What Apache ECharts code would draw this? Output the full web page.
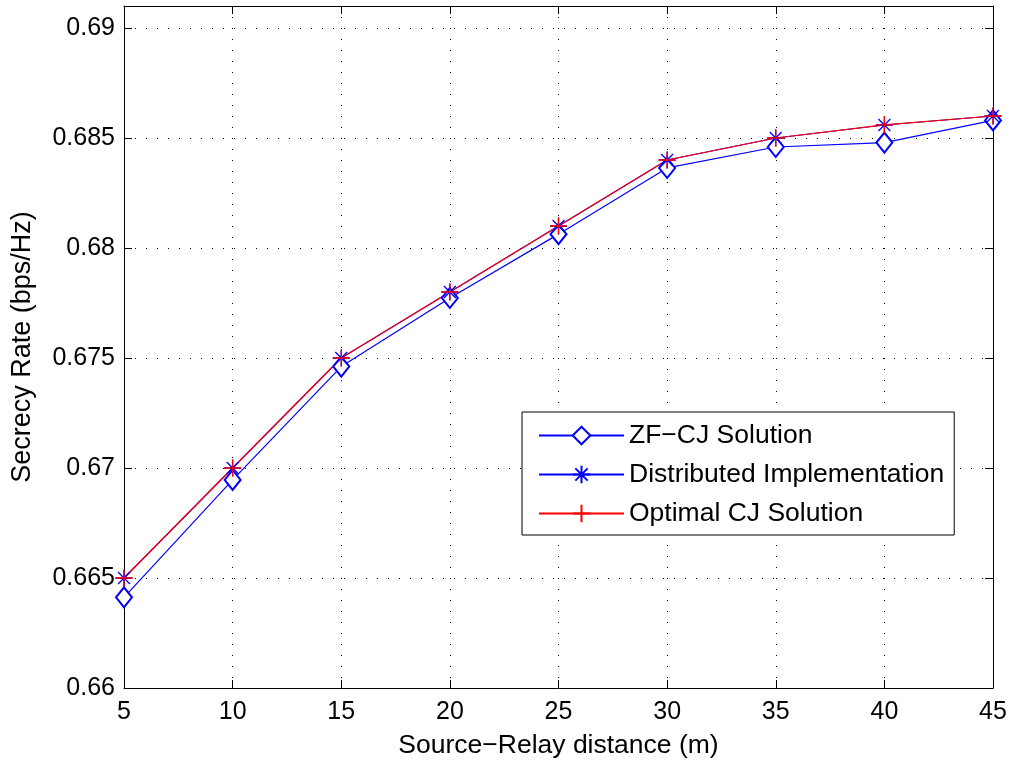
<!DOCTYPE html>
<html>
<head>
<meta charset="utf-8">
<script src="https://cdn.jsdelivr.net/npm/echarts@6/dist/echarts.min.js"></script>
<style>
  html, body { margin: 0; padding: 0; background: #fff; }
  #chart { width: 1013px; height: 764px; }
</style>
</head>
<body>
<div id="chart"></div>
<script>
  // source-relay distance (m)
  const distance = [5, 10, 15, 20, 25, 30, 35, 40, 45]
  const zfcj = [0.66412, 0.66946, 0.67461, 0.67773, 0.68063, 0.68364, 0.68459, 0.68479, 0.68580]
  const distributed = [0.66500, 0.67000, 0.67500, 0.67800, 0.68100, 0.68400, 0.68500, 0.68559, 0.68600]
  const optimal = [0.66500, 0.67000, 0.67500, 0.67800, 0.68100, 0.68400, 0.68500, 0.68560, 0.68600]
  const seriesNames = ['ZF\u2212CJ Solution', 'Distributed Implementation', 'Optimal CJ Solution']

  const font = 'Liberation Sans, Arial, Helvetica, sans-serif'
  const asterisk = 'path://M0,-1 L0,1 M-1,0 L1,0 M-0.7,-0.7 L0.7,0.7 M-0.7,0.7 L0.7,-0.7'
  const plus = 'path://M0,-1 L0,1 M-1,0 L1,0'

  function pairs(ys) {
    return distance.map((x, i) => [x, ys[i]])
  }

  const chart = echarts.init(document.getElementById('chart'))

  // top / right edges of the box, ticks only
  const frameAxis = {
    axisLine: { show: true, lineStyle: { color: '#000', width: 1 } },
    axisTick: { show: true, inside: true, length: 8, lineStyle: { color: '#000' } },
    axisLabel: { show: false },
    splitLine: { show: false }
  }

  chart.setOption({
    animation: false,
    backgroundColor: '#fff',
    grid: { left: 124, right: 20, top: 6, bottom: 74 },
    legend: {
      orient: 'vertical',
      left: 522,
      top: 412,
      padding: [10, 10, 8, 16],
      itemGap: 12,
      itemWidth: 85,
      itemHeight: 22,
      backgroundColor: '#fff',
      borderColor: '#000',
      borderWidth: 1,
      borderRadius: 0,
      textStyle: { fontFamily: font, fontSize: 26.5, color: '#000' },
      data: seriesNames
    },
    xAxis: [
      {
        type: 'value',
        min: 5,
        max: 45,
        interval: 5,
        name: 'Source\u2212Relay distance (m)',
        nameLocation: 'middle',
        nameGap: 44,
        nameTextStyle: { fontFamily: font, fontSize: 26.5, color: '#000', verticalAlign: 'top' },
        axisLine: { lineStyle: { color: '#000', width: 1 } },
        axisTick: { inside: true, length: 8, lineStyle: { color: '#000' } },
        axisLabel: { fontFamily: font, fontSize: 25, color: '#000', margin: 12 },
        splitLine: { show: true, lineStyle: { color: '#000', type: [1, 10], width: 1 } }
      },
      Object.assign({ type: 'value', min: 5, max: 45, interval: 5, position: 'top' }, frameAxis)
    ],
    yAxis: [
      {
        type: 'value',
        min: 0.66,
        max: 0.691,
        interval: 0.005,
        name: 'Secrecy Rate (bps/Hz)',
        nameLocation: 'middle',
        nameGap: 88,
        nameTextStyle: { fontFamily: font, fontSize: 27, color: '#000' },
        axisLine: { show: true, lineStyle: { color: '#000', width: 1 } },
        axisTick: { show: true, inside: true, length: 8, lineStyle: { color: '#000' } },
        axisLabel: {
          fontFamily: font, fontSize: 25, color: '#000', margin: 9,
          showMaxLabel: false,
          formatter: v => String(parseFloat(v.toFixed(3)))
        },
        splitLine: { show: true, lineStyle: { color: '#000', type: [1, 10], width: 1 } }
      },
      Object.assign({ type: 'value', min: 0.66, max: 0.691, interval: 0.005, position: 'right' }, frameAxis)
    ],
    series: [
      {
        name: seriesNames[0],
        type: 'line',
        data: pairs(zfcj),
        symbol: 'emptyDiamond',
        symbolSize: [16, 20],
        lineStyle: { color: '#0000ff', width: 1.2 },
        itemStyle: { color: '#0000ff', borderColor: '#0000ff', borderWidth: 1.3 }
      },
      {
        name: seriesNames[1],
        type: 'line',
        data: pairs(distributed),
        symbol: asterisk,
        symbolSize: 17,
        lineStyle: { color: '#0000ff', width: 1.2 },
        itemStyle: { color: '#0000ff', borderColor: '#0000ff', borderWidth: 1.3 }
      },
      {
        name: seriesNames[2],
        type: 'line',
        data: pairs(optimal),
        symbol: plus,
        symbolSize: 17,
        lineStyle: { color: '#ff0000', width: 1.2 },
        itemStyle: { color: '#ff0000', borderColor: '#ff0000', borderWidth: 1.3 }
      }
    ]
  })
</script>
</body>
</html>
